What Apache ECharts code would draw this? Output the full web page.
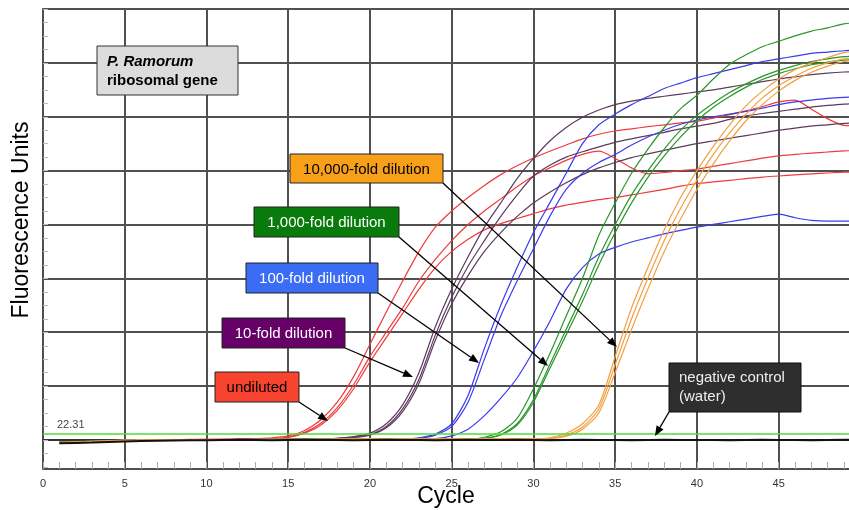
<!DOCTYPE html>
<html>
<head>
<meta charset="utf-8">
<title>P. Ramorum ribosomal gene – amplification plot</title>
<script src="https://cdn.jsdelivr.net/npm/echarts/dist/echarts.min.js"></script>
<style>
  html, body { margin: 0; padding: 0; background: #fff; }
  #chart { width: 849px; height: 510px; }
</style>
</head>
<body>
<div id="chart"></div>
<script>
// PCR cycle numbers (x values)
const cycles = [1,2,3,4,5,6,7,8,9,10,11,12,13,14,15,16,17,18,19,20,21,22,23,24,25,
  26,27,28,29,30,31,32,33,34,35,36,37,38,39,40,41,42,43,44,45,46,47,48,49,50];

// Detection threshold (fluorescence units)
const thresholdValue = 22.31;

// Undiluted template, three replicates
const undilutedA = [-10,-8,-6,-3,-1,0,1,0,1,2, 2,3,5,8,15,35,75,140,235,355,
  475,590,700,790,850,900,945,985,1018,1047, 1072,1095,1118,1135,1147,1155,1163,1170,1177,1183,
  1195,1208,1222,1238,1255,1262,1228,1192,1168,1166];
const undilutedB = [-12,-9,-6,-4,-2,0,0,1,1,1, 2,2,3,5,10,28,62,120,205,310,
  400,490,590,670,740,800,850,895,940,980, 1010,1038,1060,1072,1045,1010,988,993,1000,1006,
  1016,1026,1036,1046,1055,1060,1065,1069,1073,1075];
const undilutedC = [-11,-8,-5,-3,-1,0,1,1,2,2, 2,3,3,4,10,25,55,110,190,290,
  380,470,560,640,700,745,780,803,822,840, 858,872,882,892,900,910,920,930,942,952,
  958,964,970,976,980,984,988,991,994,995];

// 10-fold dilution
const fold10A = [-9,-7,-5,-3,-2,-1,0,0,1,1, 1,1,2,2,2,3,3,6,12,25,
  60,130,250,420,560,680,790,880,970,1045, 1110,1160,1198,1225,1245,1258,1268,1276,1284,1292,
  1300,1310,1320,1330,1340,1348,1356,1362,1366,1368];
const fold10B = [-10,-8,-6,-4,-2,-1,0,1,1,1, 1,2,2,2,3,3,4,6,10,20,
  50,115,225,390,530,645,740,830,910,980, 1020,1050,1070,1088,1105,1118,1130,1142,1155,1165,
  1175,1190,1203,1212,1220,1228,1236,1242,1247,1250];
const fold10C = [-11,-9,-6,-4,-2,-1,0,0,1,1, 1,1,2,2,2,3,4,5,9,18,
  45,105,210,370,505,610,700,770,830,880, 920,955,985,1010,1030,1048,1062,1075,1088,1100,
  1110,1120,1130,1140,1150,1158,1165,1170,1175,1178];

// 100-fold dilution
const fold100A = [-9,-7,-5,-3,-2,-1,0,0,0,1, 1,1,1,2,2,2,2,2,3,3,
  3,3,8,22,60,165,340,500,640,770, 880,990,1100,1170,1210,1245,1275,1305,1325,1345,
  1360,1375,1390,1405,1415,1425,1435,1440,1445,1448];
const fold100B = [-10,-8,-6,-4,-2,-1,0,0,1,1, 1,1,2,2,2,2,3,3,3,3,
  4,4,6,18,50,140,300,460,590,710, 830,930,990,1030,1060,1095,1125,1150,1172,1188,
  1200,1210,1220,1232,1245,1255,1262,1268,1272,1275];
const fold100C = [-9,-7,-5,-3,-2,-1,0,0,0,1, 1,1,1,2,2,2,2,2,3,3,
  3,3,4,5,15,40,90,155,230,330, 440,560,640,690,715,735,750,765,778,790,
  800,810,820,830,838,825,815,812,812,812];

// 1,000-fold dilution
const fold1000A = [-8,-6,-4,-3,-2,-1,0,0,0,1, 1,1,1,1,2,2,2,2,2,2,
  2,3,3,3,3,3,10,30,80,190, 320,460,600,760,880,990,1080,1160,1230,1280,
  1340,1395,1430,1460,1480,1500,1518,1530,1545,1550];
const fold1000B = [-9,-7,-5,-3,-2,-1,0,0,1,1, 1,1,1,2,2,2,2,2,2,3,
  3,3,3,3,3,4,6,20,60,150, 280,410,540,680,800,910,1000,1080,1150,1205,
  1250,1290,1322,1350,1372,1390,1405,1415,1423,1426];
const fold1000C = [-10,-8,-6,-4,-2,-1,0,0,0,1, 1,1,1,1,2,2,2,2,2,2,
  3,3,3,3,3,3,5,18,55,140, 265,390,515,650,770,880,975,1055,1125,1185,
  1235,1275,1310,1338,1360,1378,1393,1403,1410,1413];

// 10,000-fold dilution
const fold10000A = [-9,-7,-5,-3,-2,-1,0,0,1,1, 1,1,2,2,2,2,2,3,3,3,
  3,3,3,3,3,4,4,4,4,4, 8,25,60,130,310,490,640,780,900,1000,
  1090,1170,1240,1295,1340,1375,1400,1420,1438,1445];
const fold10000B = [-10,-8,-6,-4,-2,-1,0,0,0,1, 1,1,1,2,2,2,2,2,3,3,
  3,3,3,3,3,3,3,4,4,4, 6,18,48,115,280,450,600,740,860,965,
  1060,1140,1210,1270,1315,1350,1380,1400,1415,1420];
const fold10000C = [-11,-9,-6,-4,-2,-1,0,0,1,1, 1,1,2,2,2,2,2,3,3,3,
  3,3,3,3,3,3,3,3,4,4, 5,14,40,100,250,410,560,700,820,930,
  1025,1110,1185,1245,1295,1335,1365,1388,1405,1410];

// Negative control (water)
const negativeControl = [-12,-11,-10,-8,-6,-4,-3,-2,-1,-1, 0,1,0,-1,0,1,0,0,-1,0,
  1,0,0,-1,0,1,0,0,1,0, -1,0,1,0,0,-1,0,1,0,0, 0,-1,0,1,0,0,-1,0,1,0];

// Axis extents
const xTickStep = 5;
const cycleMax = 49.3;
const yMin = -108, yMax = 1600;

const groups = [
  { color: '#ee3b3b', runs: [undilutedA, undilutedB, undilutedC] },
  { color: '#5e3a5e', runs: [fold10A, fold10B, fold10C] },
  { color: '#3b3bec', runs: [fold100A, fold100B, fold100C] },
  { color: '#2a962a', runs: [fold1000A, fold1000B, fold1000C] },
  { color: '#f2a040', runs: [fold10000A, fold10000B, fold10000C] }
];

const FONT = 'Arial, "Liberation Sans", sans-serif';

const series = [];
groups.forEach(g => {
  g.runs.forEach(run => {
    series.push({
      type: 'line', xAxisIndex: 0, yAxisIndex: 0,
      data: cycles.map((c, i) => [c, run[i]]),
      showSymbol: false, symbol: 'none', silent: true, smooth: 0.25,
      lineStyle: { color: g.color, width: 1.2 },
      z: 3
    });
  });
});
series.push({
  type: 'line', xAxisIndex: 0, yAxisIndex: 0,
  data: cycles.map((c, i) => [c, negativeControl[i]]),
  showSymbol: false, symbol: 'none', silent: true,
  lineStyle: { color: '#111', width: 2 },
  z: 4,
  markLine: {
    silent: true, symbol: 'none', animation: false,
    lineStyle: { color: '#4fdc3a', width: 1.5, type: 'solid' },
    label: {
      show: true, position: 'insideStartTop', formatter: String(thresholdValue),
      color: '#444', fontSize: 11, fontFamily: FONT, distance: [14, 3]
    },
    data: [{ yAxis: thresholdValue }]
  }
});

// Callout boxes with arrows
const callouts = [
  { text: '10,000-fold dilution', box: [290, 154, 153, 29], fill: '#f9a01b', ink: '#000', from: [443, 183], to: [617, 347] },
  { text: '1,000-fold dilution', box: [254, 207, 145, 30], fill: '#097a0c', ink: '#fff', from: [399, 237], to: [548, 366] },
  { text: '100-fold dilution', box: [246, 263, 132, 30], fill: '#3a6cf4', ink: '#fff', from: [378, 293], to: [479, 363] },
  { text: '10-fold dilution', box: [222, 318, 123, 30], fill: '#660066', ink: '#fff', from: [345, 348], to: [413, 377] },
  { text: 'undiluted', box: [215, 372, 84, 30], fill: '#f8432f', ink: '#000', from: [299, 402], to: [328, 421] }
];

function arrow(from, to) {
  const dx = to[0] - from[0], dy = to[1] - from[1];
  const len = Math.sqrt(dx * dx + dy * dy);
  const ux = dx / len, uy = dy / len;
  const hl = 10, hw = 4;
  const bx = to[0] - ux * hl, by = to[1] - uy * hl;
  return [
    { type: 'line', silent: true, z: 20,
      shape: { x1: from[0], y1: from[1], x2: bx, y2: by },
      style: { stroke: '#000', lineWidth: 1.3 } },
    { type: 'polygon', silent: true, z: 20,
      shape: { points: [[to[0], to[1]], [bx - uy * hw, by + ux * hw], [bx + uy * hw, by - ux * hw]] },
      style: { fill: '#000' } }
  ];
}

const graphics = [];
callouts.forEach(c => {
  graphics.push({ type: 'rect', silent: true, z: 19,
    shape: { x: c.box[0], y: c.box[1], width: c.box[2], height: c.box[3] },
    style: { fill: c.fill, stroke: '#222', lineWidth: 1 } });
  graphics.push({ type: 'text', silent: true, z: 21,
    x: c.box[0] + c.box[2] / 2, y: c.box[1] + c.box[3] / 2 + 1,
    style: { text: c.text, fill: c.ink, fontSize: 15, fontFamily: FONT, align: 'center', verticalAlign: 'middle' } });
  arrow(c.from, c.to).forEach(e => graphics.push(e));
});

// Negative control callout
graphics.push({ type: 'rect', silent: true, z: 19,
  shape: { x: 669, y: 363, width: 132, height: 49 },
  style: { fill: '#2e2e2e', stroke: '#111', lineWidth: 1 } });
graphics.push({ type: 'text', silent: true, z: 21, x: 679, y: 378,
  style: { text: 'negative control', fill: '#eee', fontSize: 15, fontFamily: FONT, align: 'left', verticalAlign: 'middle' } });
graphics.push({ type: 'text', silent: true, z: 21, x: 679, y: 397,
  style: { text: '(water)', fill: '#eee', fontSize: 15, fontFamily: FONT, align: 'left', verticalAlign: 'middle' } });
arrow([669, 412], [655, 436]).forEach(e => graphics.push(e));

// Target label box
graphics.push({ type: 'rect', silent: true, z: 19,
  shape: { x: 97, y: 46, width: 141, height: 49 },
  style: { fill: '#dcdcdc', stroke: '#333', lineWidth: 1 } });
graphics.push({ type: 'text', silent: true, z: 21, x: 107, y: 62,
  style: { text: 'P. Ramorum', fill: '#000', fontSize: 15, fontWeight: 'bold', fontStyle: 'italic', fontFamily: FONT, align: 'left', verticalAlign: 'middle' } });
graphics.push({ type: 'text', silent: true, z: 21, x: 107, y: 81,
  style: { text: 'ribosomal gene', fill: '#000', fontSize: 15, fontWeight: 'bold', fontFamily: FONT, align: 'left', verticalAlign: 'middle' } });

// Axis titles
graphics.push({ type: 'text', silent: true, z: 21, x: 22, y: 220, rotation: Math.PI / 2,
  style: { text: 'Fluorescence Units', fill: '#000', fontSize: 23, fontFamily: FONT, align: 'center', verticalAlign: 'middle' } });
graphics.push({ type: 'text', silent: true, z: 21, x: 446, y: 497,
  style: { text: 'Cycle', fill: '#000', fontSize: 23, fontFamily: FONT, align: 'center', verticalAlign: 'middle' } });

const gridColor = '#505050';

const option = {
  animation: false,
  backgroundColor: '#fff',
  grid: [
    { left: 43, right: 0, top: 9, bottom: 41, containLabel: false, outerBoundsMode: 'none' },
    { left: 43, right: 0, top: 9, bottom: 43, containLabel: false, outerBoundsMode: 'none' }
  ],
  xAxis: [
    { type: 'value', gridIndex: 0, min: 0, max: cycleMax, interval: xTickStep,
      axisLine: { show: true, lineStyle: { color: '#333', width: 2 } },
      axisTick: { show: false },
      axisLabel: { show: true, color: '#333', fontSize: 11, fontFamily: FONT, margin: 9, showMaxLabel: false },
      splitLine: { show: true, showMaxLine: false, lineStyle: { color: gridColor, width: 2 } } },
    { type: 'value', gridIndex: 0, min: 0, max: cycleMax, interval: 1, position: 'bottom',
      axisLine: { show: false },
      axisTick: { show: true, inside: true, length: 7, lineStyle: { color: '#aaa', width: 1 } },
      axisLabel: { show: false }, splitLine: { show: false } },
    { type: 'value', gridIndex: 1, min: 0, max: 1, show: false }
  ],
  yAxis: [
    { type: 'value', gridIndex: 0, min: yMin, max: yMax, splitNumber: 8,
      axisLine: { show: true, lineStyle: { color: gridColor, width: 2 } },
      axisTick: { show: false }, axisLabel: { show: false },
      splitLine: { show: true, lineStyle: { color: gridColor, width: 2 } } },
    { type: 'value', gridIndex: 1, min: -100, max: yMax, interval: 50,
      axisLine: { show: false },
      axisTick: { show: true, inside: true, length: 5, lineStyle: { color: '#bbb', width: 1 } },
      axisLabel: { show: false }, splitLine: { show: false } }
  ],
  series: series,
  graphic: graphics
};

const chart = echarts.init(document.getElementById('chart'), null, { renderer: 'canvas' });
chart.setOption(option);
</script>
</body>
</html>
